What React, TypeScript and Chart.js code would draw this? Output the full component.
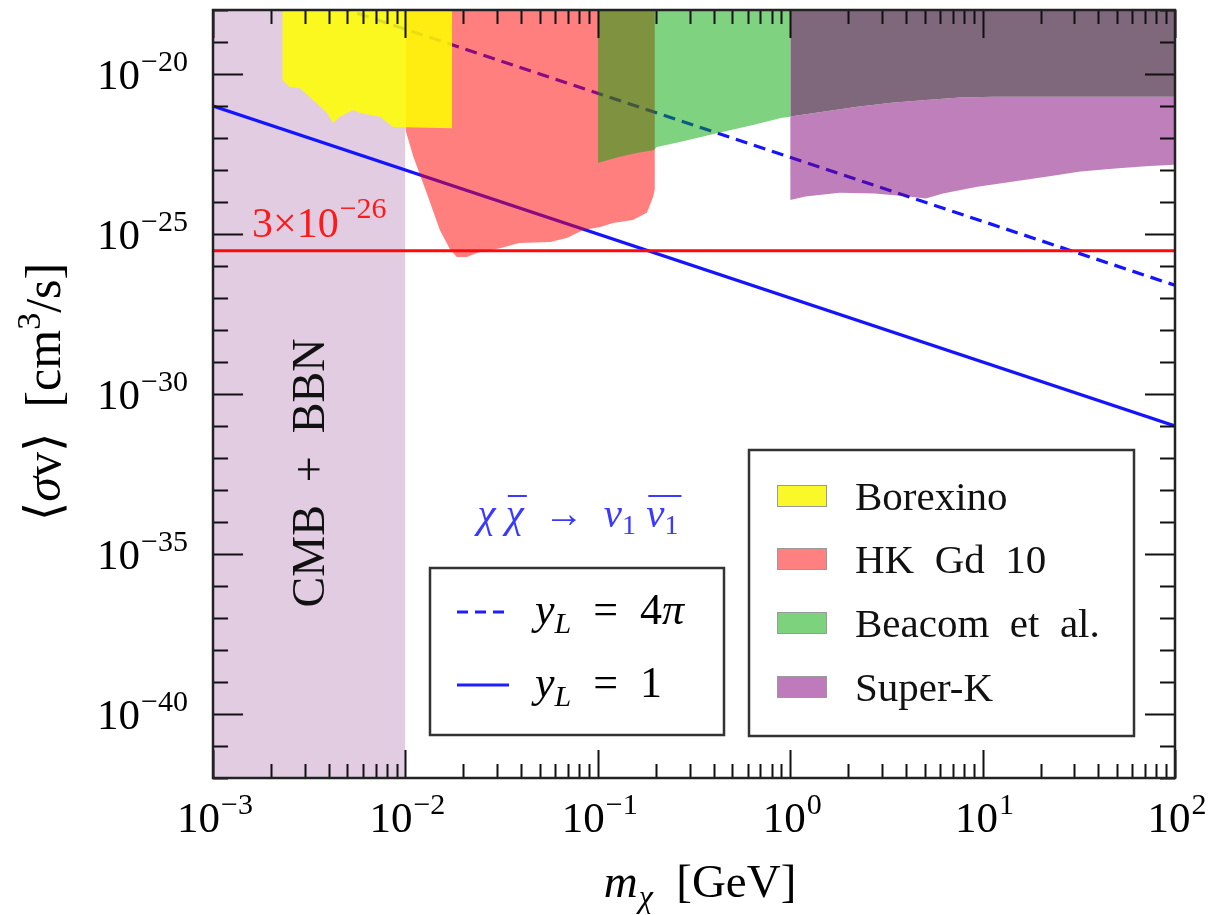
import React, { useEffect, useRef } from "react";
import { Chart, registerables } from "chart.js";

Chart.register(...registerables);

// ---------- axis ranges & ticks ----------
const xRange = [1e-3, 1e2];
const yRange = [1e-42, 1e-18];
const xDecades = [1e-3, 1e-2, 1e-1, 1, 10, 100];
const xTickLabels = ["−3", "−2", "−1", "0", "1", "2"];
const yMajorTicks = [1e-20, 1e-25, 1e-30, 1e-35, 1e-40];
const yTickLabels = ["−20", "−25", "−30", "−35", "−40"];

// ---------- data ----------
const cmbMass = [1e-3, 1e-2];
const cmbSigma = [1e-42, 1e-42];

const borexinoMass = [2.29e-3, 2.51e-3, 2.83e-3, 3.31e-3, 3.92e-3, 4.21e-3, 4.57e-3, 5.35e-3, 5.81e-3, 7.38e-3, 8.63e-3, 1.75e-2];
const borexinoSigma = [6.5e-21, 3.9e-21, 3.6e-21, 1.55e-21, 6.0e-22, 2.95e-22, 4.6e-22, 7.5e-22, 6.0e-22, 4.6e-22, 2.2e-22, 2.0e-22];

const hkMass = [1.0e-2, 1.1e-2, 1.29e-2, 1.51e-2, 1.71e-2, 1.85e-2, 2.09e-2, 2.36e-2, 3.1e-2, 3.9e-2, 5.65e-2, 6.9e-2, 8.4e-2, 1.03e-1, 1.2e-1, 1.52e-1, 1.8e-1, 1.94e-1, 1.98e-1];
const hkSigma = [1.8e-22, 2.6e-23, 1.9e-24, 1.33e-25, 3.2e-26, 1.9e-26, 1.9e-26, 2.6e-26, 3.6e-26, 5.2e-26, 5.6e-26, 7.5e-26, 1.33e-25, 1.66e-25, 2.2e-25, 2.75e-25, 4.6e-25, 1.45e-24, 2.5e-24];

const beacomMass = [1.0e-1, 1.3e-1, 1.6e-1, 1.96e-1, 2.03e-1, 2.67e-1, 4.27e-1, 6.49e-1, 8.95e-1, 1.0];
const beacomSigma = [1.66e-23, 2.6e-23, 3.4e-23, 4.2e-23, 5.2e-23, 7.5e-23, 1.45e-22, 2.6e-22, 4.2e-22, 4.6e-22];

const superKMass = [1, 1.2, 1.81, 2.74, 4.12, 5.07, 6.22, 9.4, 14.2, 21.4, 32.3, 48.8, 73.5, 100];
const superKLowSigma = [1.15e-24, 1.48e-24, 1.95e-24, 1.86e-24, 1.48e-24, 1.29e-24, 1.86e-24, 3.0e-24, 4.3e-24, 6.2e-24, 8.9e-24, 1.12e-23, 1.33e-23, 1.45e-23];
const superKTopMass = [1, 1.48, 2.23, 3.37, 5.07, 7.62, 11.5, 100];
const superKTopSigma = [4.7e-22, 6.6e-22, 9.5e-22, 1.26e-21, 1.55e-21, 1.86e-21, 1.95e-21, 1.95e-21];

const thermalMass = [1e-3, 1e2];
const thermalSigma = [3e-26, 3e-26];

const yL1Mass = [1e-3, 1e2];
const yL1Sigma = [1e-21, 1e-31];
const yL4piMass = [1e-3, 1e2];
const yL4piSigma = [2.5e-17, 2.5e-27];

const regionLabels = ["Borexino", "HK  Gd  10", "Beacom  et  al.", "Super-K"];
const regionSwatches = ["rgb(250,248,40)", "rgb(255,128,128)", "rgb(125,210,125)", "rgb(190,122,186)"];

const pts = (xs: number[], ys: number[]) => xs.map((x, i) => ({ x, y: ys[i] }));

const SERIF = '"Liberation Serif","DejaVu Serif",serif';
const f = (size: number, italic = false) => `${italic ? "italic " : ""}${size}px ${SERIF}`;

type Seg = { t: string; font: string; dy?: number; dx?: number; color?: string; over?: boolean };

function drawRich(ctx: CanvasRenderingContext2D, segs: Seg[], x: number, y: number, align: "left" | "center" | "right", color = "#000") {
  let w = 0;
  for (const s of segs) {
    ctx.font = s.font;
    w += ctx.measureText(s.t).width + (s.dx || 0);
  }
  let cx = align === "center" ? x - w / 2 : align === "right" ? x - w : x;
  ctx.textBaseline = "alphabetic";
  ctx.textAlign = "left";
  for (const s of segs) {
    ctx.font = s.font;
    cx += s.dx || 0;
    const c = s.color || color;
    ctx.fillStyle = c;
    ctx.fillText(s.t, cx, y + (s.dy || 0));
    const mw = ctx.measureText(s.t).width;
    if (s.over) {
      ctx.strokeStyle = c;
      ctx.lineWidth = 2;
      ctx.beginPath();
      ctx.moveTo(cx + 2, y - 31);
      ctx.lineTo(cx + mw + 3, y - 31);
      ctx.stroke();
    }
    cx += mw;
  }
  return w;
}

const decor = {
  id: "decor",
  afterDraw(chart: any) {
    const ctx: CanvasRenderingContext2D = chart.ctx;
    const xs = chart.scales.x;
    const ys = chart.scales.y;
    const { left, right, top, bottom } = chart.chartArea;
    ctx.save();

    // ticks
    ctx.strokeStyle = "#111";
    ctx.lineWidth = 2;
    const MAJ = 28, MIN = 14;
    ctx.beginPath();
    for (let d = -3; d <= 2; d++) {
      for (let k = 1; k <= 9; k++) {
        const v = k * Math.pow(10, d);
        if (v > xRange[1] * 1.0001) break;
        const px = Math.round(xs.getPixelForValue(v)) + 0.5;
        const len = k === 1 ? MAJ : MIN;
        ctx.moveTo(px, bottom); ctx.lineTo(px, bottom - len);
        ctx.moveTo(px, top); ctx.lineTo(px, top + len);
      }
    }
    for (let e = -42; e <= -18; e++) {
      const py = Math.round(ys.getPixelForValue(Math.pow(10, e))) + 0.5;
      const len = e % 5 === 0 ? MAJ + 2 : MIN + 1;
      ctx.moveTo(left, py); ctx.lineTo(left + len, py);
      ctx.moveTo(right, py); ctx.lineTo(right - len, py);
    }
    ctx.stroke();

    // frame
    ctx.strokeStyle = "#222";
    ctx.lineWidth = 2.5;
    ctx.strokeRect(left, top, right - left, bottom - top);

    // x tick labels
    xDecades.forEach((v, i) => {
      const px = xs.getPixelForValue(v);
      drawRich(ctx, [
        { t: "10", font: f(43) },
        { t: xTickLabels[i], font: f(30), dy: -18, dx: 1 },
      ], px + 2, bottom + 54, "center");
    });
    // y tick labels
    yMajorTicks.forEach((v, i) => {
      const py = ys.getPixelForValue(v);
      drawRich(ctx, [
        { t: "10", font: f(43) },
        { t: yTickLabels[i], font: f(30), dy: -18, dx: 1 },
      ], 188, py + 15, "right");
    });

    // axis titles
    drawRich(ctx, [
      { t: "m", font: f(47, true) },
      { t: "χ", font: f(32, true), dy: 10, dx: 1 },
      { t: "  [GeV]", font: f(47) },
    ], 700, 897, "center");

    ctx.save();
    ctx.translate(60, 392);
    ctx.rotate(-Math.PI / 2);
    drawRich(ctx, [
      { t: "⟨", font: f(50) },
      { t: "σ", font: f(50, true) },
      { t: "v", font: f(50) },
      { t: "⟩  [cm", font: f(50) },
      { t: "3", font: f(34), dy: -20 },
      { t: "/s]", font: f(50) },
    ], 0, 0, "center");
    ctx.restore();

    // CMB + BBN
    ctx.save();
    ctx.translate(324, 473);
    ctx.rotate(-Math.PI / 2);
    drawRich(ctx, [{ t: "CMB  +  BBN", font: f(46) }], 0, 0, "center", "#111");
    ctx.restore();

    // thermal label
    drawRich(ctx, [
      { t: "3×10", font: f(42), color: "#ff1a1a" },
      { t: "−26", font: f(30), dy: -19, dx: 1, color: "#ff1a1a" },
    ], 252, 237, "left");

    // process label
    drawRich(ctx, [
      { t: "χ", font: f(41, true) },
      { t: " ", font: f(41) },
      { t: "χ", font: f(41, true), over: true },
      { t: "  →  ", font: f(40) },
      { t: "ν", font: f(41, true) },
      { t: "1", font: f(28), dy: 7 },
      { t: " ", font: f(41) },
      { t: "ν", font: f(41, true), over: true },
      { t: "1", font: f(28), dy: 7, over: true },
    ], 578, 527, "center", "#3a3aff");

    // legend box 1 (couplings)
    ctx.fillStyle = "#fff";
    ctx.fillRect(430, 568, 294, 167);
    ctx.strokeStyle = "#333";
    ctx.lineWidth = 2.5;
    ctx.strokeRect(430, 568, 294, 167);
    ctx.strokeStyle = "rgb(30,30,255)";
    ctx.lineWidth = 3;
    ctx.setLineDash([11, 7]);
    ctx.beginPath(); ctx.moveTo(457, 612); ctx.lineTo(510, 612); ctx.stroke();
    ctx.setLineDash([]);
    ctx.beginPath(); ctx.moveTo(457, 685); ctx.lineTo(509, 685); ctx.stroke();
    drawRich(ctx, [
      { t: "y", font: f(44, true) },
      { t: "L", font: f(30, true), dy: 9 },
      { t: "  =  4", font: f(44) },
      { t: "π", font: f(44, true) },
    ], 535, 624, "left");
    drawRich(ctx, [
      { t: "y", font: f(44, true) },
      { t: "L", font: f(30, true), dy: 9 },
      { t: "  =  1", font: f(44) },
    ], 535, 697, "left");

    // legend box 2 (experiments)
    ctx.fillStyle = "#fff";
    ctx.fillRect(749, 450, 385, 286);
    ctx.strokeStyle = "#333";
    ctx.lineWidth = 2.5;
    ctx.strokeRect(749, 450, 385, 286);
    const rowY = [496, 559, 623, 687];
    regionLabels.forEach((lab, i) => {
      ctx.fillStyle = regionSwatches[i];
      ctx.fillRect(777, rowY[i] - 11, 50, 22);
      ctx.strokeStyle = "#999";
      ctx.lineWidth = 1;
      ctx.strokeRect(777.5, rowY[i] - 10.5, 49, 21);
      drawRich(ctx, [{ t: lab, font: f(41) }], 855, rowY[i] + 14, "left", "#111");
    });

    ctx.restore();
  },
};

export default function App() {
  const ref = useRef<HTMLCanvasElement | null>(null);
  useEffect(() => {
    if (!ref.current) return;
    const base = { pointRadius: 0, borderWidth: 0, tension: 0 };
    const chart = new Chart(ref.current, {
      type: "line",
      data: {
        datasets: [
          { ...base, label: "CMB + BBN", data: pts(cmbMass, cmbSigma), fill: "end", backgroundColor: "rgb(225,204,226)", order: 10 },
          { ...base, label: "yL = 1", data: pts(yL1Mass, yL1Sigma), fill: false, borderColor: "rgb(20,20,255)", borderWidth: 3.2, order: 9 },
          { ...base, label: "yL = 4π", data: pts(yL4piMass, yL4piSigma), fill: false, borderColor: "rgb(20,20,255)", borderWidth: 3.2, borderDash: [12, 7], order: 8 },
          { ...base, label: "HK Gd 10", data: pts(hkMass, hkSigma), fill: "end", backgroundColor: "rgba(255,0,0,0.5)", order: 7 },
          { ...base, label: "Beacom et al.", data: pts(beacomMass, beacomSigma), fill: "end", backgroundColor: "rgba(0,165,0,0.5)", order: 6 },
          { ...base, label: "Borexino", data: pts(borexinoMass, borexinoSigma), fill: "end", backgroundColor: "rgba(255,255,0,0.86)", order: 5 },
          { ...base, label: "Super-K", data: pts(superKMass, superKLowSigma), fill: 7, backgroundColor: "rgba(125,0,118,0.5)", order: 4 },
          { ...base, label: "Super-K (upper)", data: pts(superKTopMass, superKTopSigma), fill: "end", backgroundColor: "rgb(127,104,124)", order: 3 },
          { ...base, label: "3e-26", data: pts(thermalMass, thermalSigma), fill: false, borderColor: "rgb(255,10,10)", borderWidth: 3, order: 1 },
        ],
      },
      options: {
        animation: false,
        responsive: false,
        devicePixelRatio: 1,
        events: [],
        layout: { padding: { left: 213, right: 34, top: 10, bottom: 137 } },
        plugins: { legend: { display: false }, tooltip: { enabled: false } },
        scales: {
          x: { type: "logarithmic", min: xRange[0], max: xRange[1], display: false },
          y: { type: "logarithmic", min: yRange[0], max: yRange[1], display: false },
        },
      },
      plugins: [decor],
    } as any);
    return () => chart.destroy();
  }, []);
  return (
    <div style={{ position: "absolute", left: 0, top: 0, width: 1209, height: 915, background: "#fff" }}>
      <canvas ref={ref} width={1209} height={915} />
    </div>
  );
}
